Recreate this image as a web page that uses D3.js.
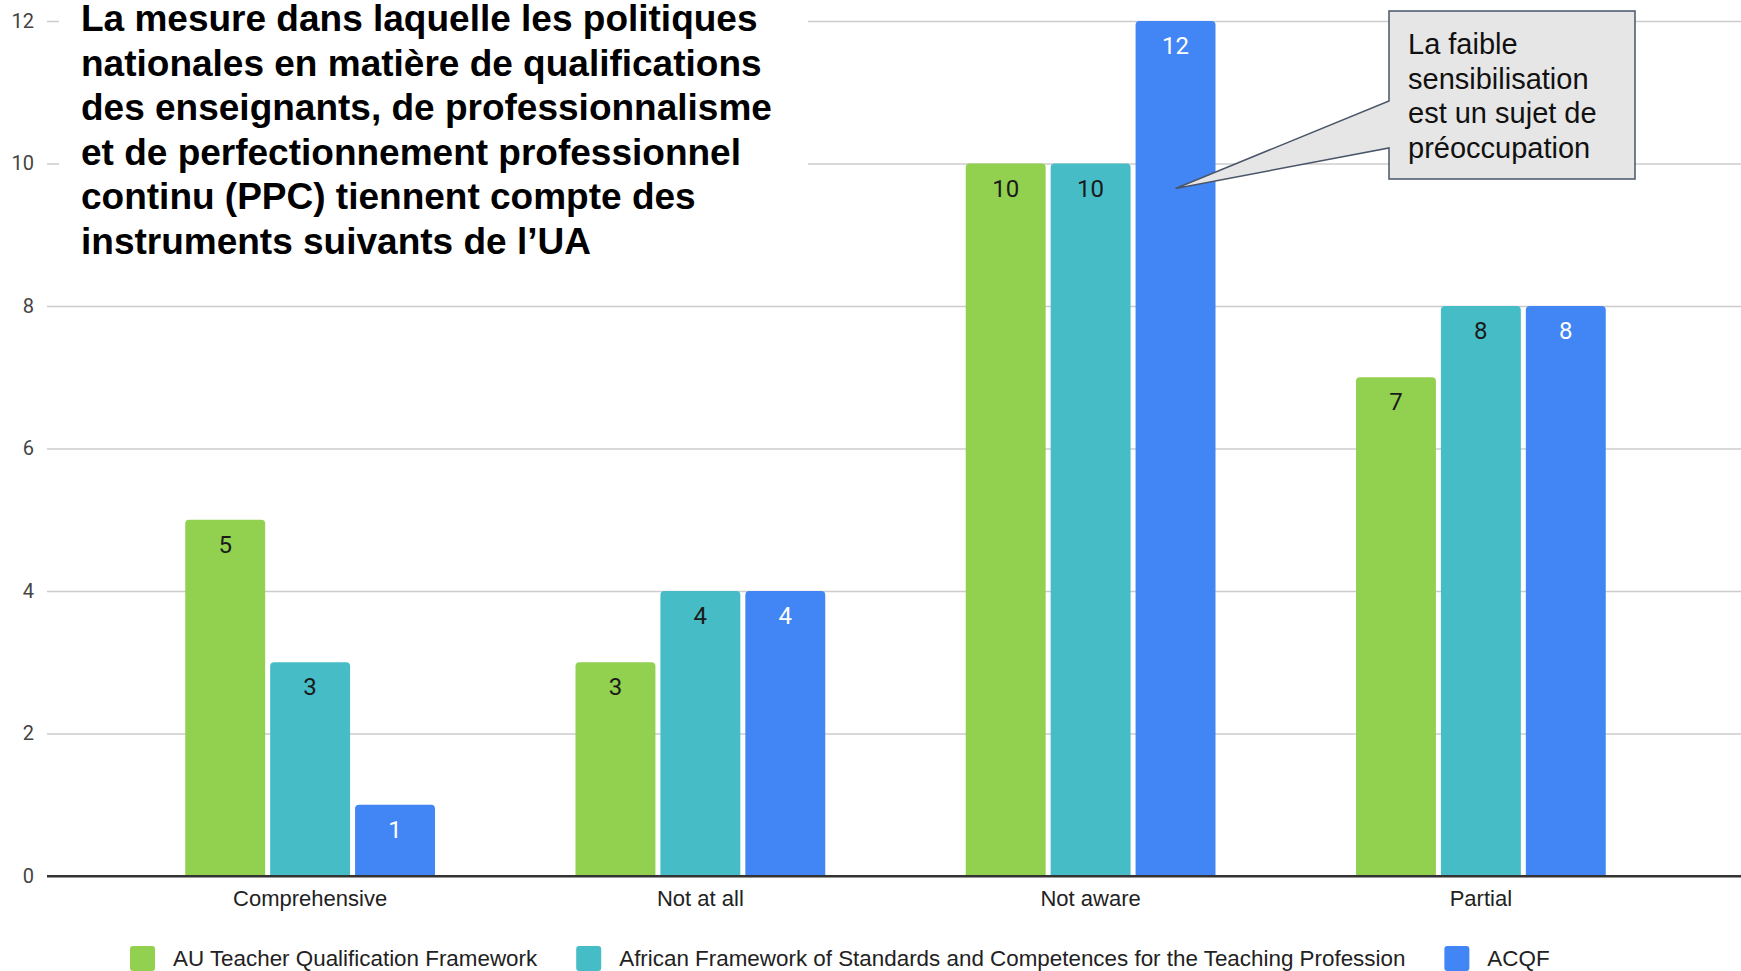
<!DOCTYPE html>
<html>
<head>
<meta charset="utf-8">
<script src="https://cdn.jsdelivr.net/npm/d3@7"></script>
<style>
  html, body { margin: 0; padding: 0; background: #ffffff; }
  svg { display: block; }
</style>
</head>
<body>
<div id="chart"></div>
<script>
// data
var categories = ["Comprehensive", "Not at all", "Not aware", "Partial"];
var seriesNames = [
  "AU Teacher Qualification Framework",
  "African Framework of Standards and Competences for the Teaching Profession",
  "ACQF"
];
var auTeacherQF = [5, 3, 10, 7];
var africanFrameworkStd = [3, 4, 10, 8];
var acqfValues = [1, 4, 12, 8];
var yTicks = [0, 2, 4, 6, 8, 10, 12];
var titleLines = [
  "La mesure dans laquelle les politiques",
  "nationales en matière de qualifications",
  "des enseignants, de professionnalisme",
  "et de perfectionnement professionnel",
  "continu (PPC) tiennent compte des",
  "instruments suivants de l\u2019UA"
];
var calloutLines = ["La faible", "sensibilisation", "est un sujet de", "préoccupation"];

var colors = ["#92d050", "#46bdc6", "#4285f4"];
var labelColors = ["#1a1a1a", "#1a1a1a", "#ffffff"];

var width = 1741, height = 971;
var values = [auTeacherQF, africanFrameworkStd, acqfValues];

var svg = d3.select("#chart").append("svg")
  .attr("width", width)
  .attr("height", height);

var y = d3.scaleLinear().domain([0, 12]).range([876, 21]);
var x0 = d3.scaleBand().domain(categories).range([115, 1676])
  .paddingInner(0.36).paddingOuter(0.18);
var x1 = d3.scaleBand().domain(d3.range(seriesNames.length))
  .range([0, x0.bandwidth()]).paddingInner(0.0588).paddingOuter(0);

// gridlines + tick labels
var yAxis = d3.axisLeft(y).tickValues(yTicks).tickSize(-(width - 47)).tickPadding(13)
  .tickFormat(d3.format("d"));
var gy = svg.append("g")
  .attr("transform", "translate(47,0)")
  .call(yAxis);
gy.select(".domain").remove();
gy.selectAll(".tick line")
  .attr("stroke", function(d) { return d === 0 ? "#333333" : "#cccccc"; })
  .attr("stroke-width", function(d) { return d === 0 ? 2 : 1.5; });
gy.selectAll(".tick text")
  .style("font-family", "Roboto, 'Liberation Sans', Arial, sans-serif")
  .style("font-size", "20px")
  .attr("fill", "#444444");

// title with white background box
svg.append("rect")
  .attr("x", 59).attr("y", 0)
  .attr("width", 808 - 59).attr("height", 255)
  .attr("fill", "#ffffff");
svg.append("g").selectAll("text")
  .data(titleLines).enter()
  .append("text")
  .attr("x", 81)
  .attr("y", function(d, i) { return 31 + i * 44.6; })
  .style("font-family", "'Liberation Sans', Arial, sans-serif")
  .style("font-weight", "bold")
  .style("font-size", "37px")
  .attr("fill", "#000000")
  .text(function(d) { return d; });

// rounded-top bar path
function barPath(bx, by, bw, bh, r) {
  r = Math.min(r, bh);
  return "M" + bx + "," + (by + bh) +
    "V" + (by + r) +
    "Q" + bx + "," + by + " " + (bx + r) + "," + by +
    "H" + (bx + bw - r) +
    "Q" + (bx + bw) + "," + by + " " + (bx + bw) + "," + (by + r) +
    "V" + (by + bh) + "Z";
}

var groups = svg.append("g").selectAll("g")
  .data(categories).enter()
  .append("g")
  .attr("transform", function(d) { return "translate(" + x0(d) + ",0)"; });

groups.selectAll("path")
  .data(function(d, ci) { return values.map(function(s, si) { return { si: si, v: s[ci] }; }); })
  .enter().append("path")
  .attr("d", function(d) {
    return barPath(x1(d.si), y(d.v), x1.bandwidth(), y(0) - y(d.v), 4);
  })
  .attr("fill", function(d) { return colors[d.si]; });

groups.selectAll("text")
  .data(function(d, ci) { return values.map(function(s, si) { return { si: si, v: s[ci] }; }); })
  .enter().append("text")
  .attr("x", function(d) { return x1(d.si) + x1.bandwidth() / 2; })
  .attr("y", function(d) { return y(d.v) + 33; })
  .attr("text-anchor", "middle")
  .style("font-family", "Roboto, 'Liberation Sans', Arial, sans-serif")
  .style("font-size", "24px")
  .attr("fill", function(d) { return labelColors[d.si]; })
  .text(function(d) { return d.v; });

// baseline redrawn on top of the bars
svg.append("line")
  .attr("x1", 47).attr("x2", width)
  .attr("y1", y(0)).attr("y2", y(0))
  .attr("stroke", "#333333").attr("stroke-width", 2);

// category labels
svg.append("g").selectAll("text")
  .data(categories).enter()
  .append("text")
  .attr("x", function(d) { return x0(d) + x0.bandwidth() / 2; })
  .attr("y", 906)
  .attr("text-anchor", "middle")
  .style("font-family", "'Liberation Sans', Arial, sans-serif")
  .style("font-size", "22px")
  .attr("fill", "#222222")
  .text(function(d) { return d; });

// legend
var legend = svg.append("g");
var lx = 130;
seriesNames.forEach(function(name, i) {
  legend.append("rect")
    .attr("x", lx).attr("y", 946)
    .attr("width", 25).attr("height", 25)
    .attr("rx", 3)
    .attr("fill", colors[i]);
  var t = legend.append("text")
    .attr("x", lx + 43).attr("y", 966)
    .style("font-family", "'Liberation Sans', Arial, sans-serif")
    .style("font-size", "22.4px")
    .attr("fill", "#222222")
    .text(name);
  lx = lx + 43 + t.node().getComputedTextLength() + 39;
});

// callout pointing at the ACQF "Not aware" bar
var tipX = x0("Not aware") + x1(2) + x1.bandwidth() / 2;
var tipY = y(9.65);
var box = { x: 1389, y: 11, w: 246, h: 168 };
svg.append("path")
  .attr("d", "M" + box.x + "," + box.y +
    "H" + (box.x + box.w) + "V" + (box.y + box.h) + "H" + box.x +
    "V148L" + tipX + "," + tipY + "L" + box.x + ",101Z")
  .attr("fill", "#e6e6e6")
  .attr("stroke", "#4a5568")
  .attr("stroke-width", 1.5)
  .attr("stroke-linejoin", "miter");
svg.append("g").selectAll("text")
  .data(calloutLines).enter()
  .append("text")
  .attr("x", 1408)
  .attr("y", function(d, i) { return 54 + i * 34.6; })
  .style("font-family", "'Liberation Sans', Arial, sans-serif")
  .style("font-size", "29px")
  .attr("fill", "#111111")
  .text(function(d) { return d; });
</script>
</body>
</html>
